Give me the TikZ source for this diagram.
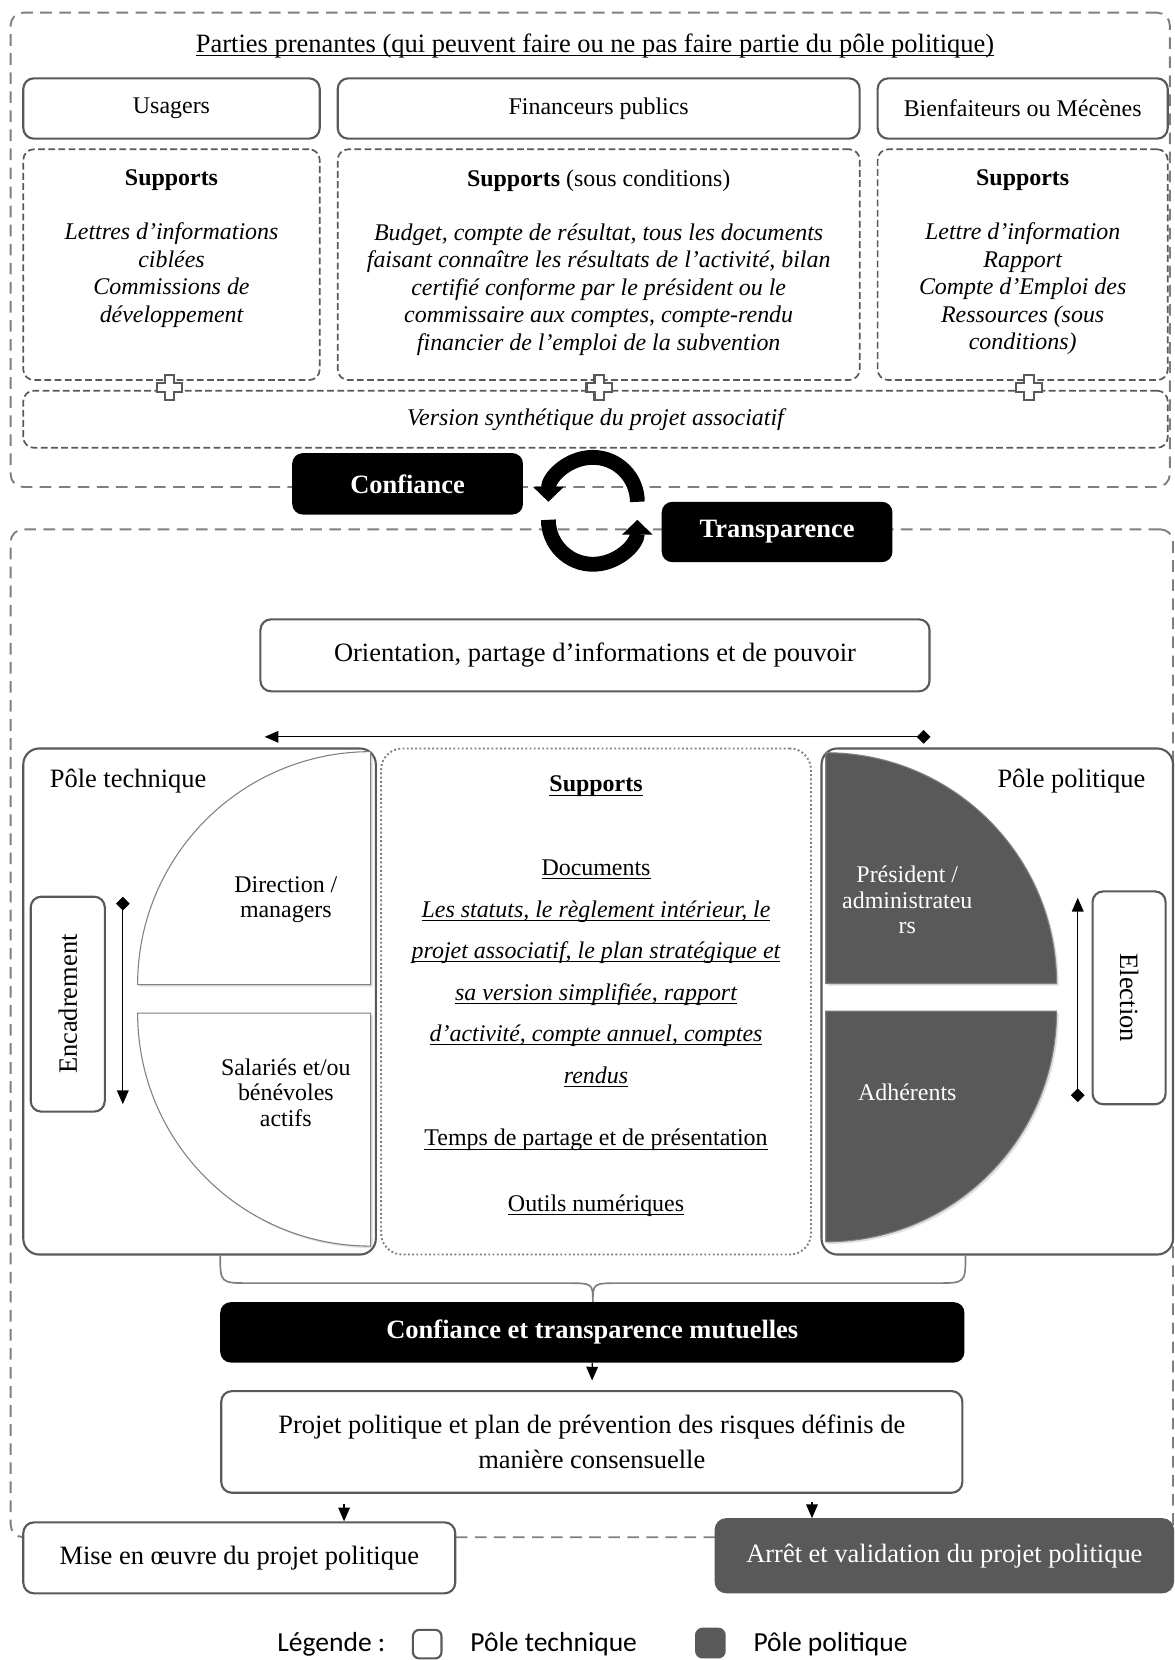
\documentclass[tikz,border=0pt]{standalone}
\usepackage{fontspec}
\setmainfont{Liberation Serif}
\newfontfamily\legendfont{Carlito}
\usepackage{tikz}
\usetikzlibrary{arrows.meta,shadows}
\definecolor{LineGrey}{HTML}{595959}
\definecolor{DashGrey}{HTML}{7F7F7F}
\definecolor{PoleDark}{HTML}{595959}
\newcommand{\bigtxt}{\fontsize{12.5}{15}\selectfont}
\newcommand{\smtxt}{\fontsize{11.3}{13}\selectfont}
\newcommand{\disctxt}{\fontsize{11.3}{12}\selectfont}
\newcommand{\doctxt}{\fontsize{11.3}{19.6}\selectfont}
\newcommand{\legtxt}{\legendfont\fontsize{13}{15}\selectfont}
\newsavebox{\ulbox}
\newcommand{\ulin}[1]{\sbox{\ulbox}{#1}\rlap{\rule[-1.8pt]{\wd\ulbox}{0.55pt}}\usebox{\ulbox}}

\begin{document}
\begin{tikzpicture}[x=0.5pt,y=-0.5pt,
frame/.style={draw=DashGrey,line width=0.9pt,dash pattern=on 5.5pt off 3.5pt,rounded corners=6pt},
box/.style={draw=LineGrey,line width=1pt,rounded corners=5pt,fill=white,align=center},
supbox/.style={draw=LineGrey,line width=0.8pt,dash pattern=on 3.2pt off 1.6pt,rounded corners=5pt},
suptxt/.style={anchor=north,align=center,font=\smtxt\itshape,inner sep=0pt},
blackbox/.style={fill=black,rounded corners=5pt,text=white,font=\bigtxt\bfseries},
pole/.style={draw=LineGrey,line width=1pt,rounded corners=7.5pt,fill=white},
dotbox/.style={draw=DashGrey,line width=0.9pt,dash pattern=on 0.9pt off 1.1pt,rounded corners=10pt},
lightdisc/.style={draw=DashGrey,line width=0.5pt,fill=white,drop shadow={shadow xshift=1pt,shadow yshift=-1pt,opacity=0.25}},
darkdisc/.style={draw=DashGrey,line width=0.5pt,fill=PoleDark,drop shadow={shadow xshift=1pt,shadow yshift=-1pt,opacity=0.25}},
plusmark/.style={draw=LineGrey,line width=1pt,fill=white},
arr/.style={-{Triangle[length=6.5pt,width=5.5pt]},line width=0.6pt},
diaarr/.style={{Diamond[length=6.5pt,width=6.5pt]}-{Triangle[length=6.5pt,width=5.5pt]},line width=0.6pt},
cyc/.style={-{Triangle[length=7pt,width=14pt]},line width=7pt},
bracest/.style={draw=DashGrey,line width=0.8pt},
legsq/.style={draw=LineGrey,line width=1pt,rounded corners=3pt,minimum width=13.5pt,minimum height=13.5pt,inner sep=0pt}
]
\useasboundingbox (0,0) rectangle (1109,1568);
% dashed frames
\node[frame,minimum width=547.5pt,minimum height=224pt] (ftop) at (557.5,236) {};
\node[frame,minimum width=549pt,minimum height=476pt] (fbot) at (559,976) {};

% parties prenantes
\node[font=\bigtxt] (parties) at (562,43) {\ulin{Parties prenantes (qui peuvent faire ou ne pas faire partie du pôle politique)}};
\node[box,font=\smtxt,minimum width=140pt,minimum height=28.5pt] (usagers) at (162,102.5) {Usagers};
\node[box,font=\smtxt,minimum width=246.5pt,minimum height=28.5pt] (financeurs) at (565.5,102.5) {Financeurs publics};
\node[box,font=\smtxt,minimum width=137pt,minimum height=28.5pt] (bienfaiteurs) at (966,102.5) {Bienfaiteurs ou Mécènes};
\node[supbox,minimum width=140pt,minimum height=109pt] (supU) at (162,250) {};
\node[supbox,minimum width=246.5pt,minimum height=109pt] (supF) at (565.5,250) {};
\node[supbox,minimum width=137pt,minimum height=109pt] (supB) at (966,250) {};
\node[suptxt] (supUtxt) at (162,160) {\textup{\textbf{Supports}}\\[12.5pt]Lettres d’informations\\ciblées\\Commissions de\\développement};
\node[suptxt] (supFtxt) at (565.5,160) {\textup{\textbf{Supports} (sous conditions)}\\[12.5pt]Budget, compte de résultat, tous les documents\\faisant connaître les résultats de l’activité, bilan\\certifié conforme par le président ou le\\commissaire aux comptes, compte-rendu\\financier de l’emploi de la subvention};
\node[suptxt] (supBtxt) at (966,160) {\textup{\textbf{Supports}}\\[12.5pt]Lettre d’information\\Rapport\\Compte d’Emploi des\\Ressources (sous\\conditions)};
\node[supbox,font=\smtxt\itshape,minimum width=540.5pt,minimum height=27pt] (version) at (562.5,396) {Version synthétique du projet associatif};
\draw[plusmark] (160,366) ++(-4.5,-12) -- ++(9,0) -- ++(0,7.5) -- ++(7.5,0) -- ++(0,9) -- ++(-7.5,0) -- ++(0,7.5) -- ++(-9,0) -- ++(0,-7.5) -- ++(-7.5,0) -- ++(0,-9) -- ++(7.5,0) -- cycle;
\draw[plusmark] (566,366) ++(-4.5,-12) -- ++(9,0) -- ++(0,7.5) -- ++(7.5,0) -- ++(0,9) -- ++(-7.5,0) -- ++(0,7.5) -- ++(-9,0) -- ++(0,-7.5) -- ++(-7.5,0) -- ++(0,-9) -- ++(7.5,0) -- cycle;
\draw[plusmark] (972,366) ++(-4.5,-12) -- ++(9,0) -- ++(0,7.5) -- ++(7.5,0) -- ++(0,9) -- ++(-7.5,0) -- ++(0,7.5) -- ++(-9,0) -- ++(0,-7.5) -- ++(-7.5,0) -- ++(0,-9) -- ++(7.5,0) -- cycle;

% confiance / transparence
\node[blackbox,minimum width=109pt,minimum height=29pt] (confiance) at (385,457) {Confiance};
\node[blackbox,minimum width=109pt,minimum height=28.5pt] (transparence) at (734,502.5) {Transparence};
\coordinate (cycTop) at (602,474);
\coordinate (cycBot) at (518,491);
\draw[cyc] (cycTop) arc[start angle=0,end angle=180,radius=21pt];
\draw[cyc] (cycBot) arc[start angle=180,end angle=360,radius=21pt];

\node[box,font=\bigtxt,minimum width=316pt,minimum height=34pt] (orient) at (562,619) {Orientation, partage d’informations et de pouvoir};
\coordinate (shareR) at (879,696);
\coordinate (shareL) at (250,696);
\draw[diaarr] (shareR) -- (shareL);

% pole technique
\node[pole,minimum width=166.5pt,minimum height=239pt] (tech) at (188.5,946) {};
\node[font=\bigtxt] (techlbl) at (121,738) {Pôle technique};
\draw[lightdisc] (350,930) -- (130,930) arc[start angle=180,end angle=90,radius=110pt] -- cycle;
\draw[lightdisc] (350,957) -- (350,1177) arc[start angle=270,end angle=180,radius=110pt] -- cycle;
\node[font=\disctxt,align=center] (direction) at (270,850) {Direction /\\managers};
\node[font=\disctxt,align=center] (salaries) at (270,1032) {Salariés et/ou\\bénévoles\\actifs};
\node[box,font=\bigtxt,rotate=90,minimum width=101.5pt,minimum height=35pt] (encadr) at (64,948.5) {Encadrement};
\coordinate (encTop) at (116,847);
\coordinate (encBot) at (116,1043);
\draw[diaarr] (encTop) -- (encBot);

% supports
\node[dotbox,minimum width=203pt,minimum height=239pt] (supmid) at (563,946) {};
\node[font=\smtxt\bfseries] (supmidT) at (563,743) {\ulin{Supports}};
\node[font=\doctxt\itshape,align=center] (docs) at (563,919.5) {\textup{\ulin{Documents}}\\\ulin{Les statuts, le règlement intérieur, le}\\\ulin{projet associatif, le plan stratégique et}\\\ulin{sa version simplifiée, rapport}\\\ulin{d’activité, compte annuel, comptes}\\\ulin{rendus}};
\node[font=\smtxt] (temps) at (563,1077) {\ulin{Temps de partage et de présentation}};
\node[font=\smtxt] (outils) at (563,1139) {\ulin{Outils numériques}};

% pole politique
\node[pole,minimum width=166pt,minimum height=239pt] (pol) at (942,946) {};
\node[font=\bigtxt] (pollbl) at (1012,738) {Pôle politique};
\draw[darkdisc] (780,929) -- (780,711) arc[start angle=90,end angle=0,radius=109pt] -- cycle;
\draw[darkdisc] (780,955) -- (998,955) arc[start angle=0,end angle=-90,radius=109pt] -- cycle;
\node[text=white,font=\disctxt,align=center] (president) at (857,850) {Président /\\administrateu\\rs};
\node[text=white,font=\smtxt] (adherents) at (857,1032) {Adhérents};
\node[box,font=\bigtxt,rotate=-90,minimum width=100.5pt,minimum height=34.5pt] (election) at (1066.5,942.5) {Election};
\coordinate (eleBot) at (1018,1041);
\coordinate (eleTop) at (1018,848);
\draw[diaarr] (eleBot) -- (eleTop);

% brace and result
\draw[bracest] (208,1185) .. controls (208,1212) .. (236,1212) -- (534,1212) .. controls (560,1212) .. (560,1230) .. controls (560,1212) .. (586,1212) -- (884,1212) .. controls (912,1212) .. (912,1185);
\node[blackbox,minimum width=351.5pt,minimum height=28.5pt] (mutual) at (559.5,1258.5) {Confiance et transparence mutuelles};
\node[box,font={\fontsize{12.5}{16.5}\selectfont},minimum width=350pt,minimum height=48pt] (projet) at (559,1362) {Projet politique et plan de prévention des risques définis de\\manière consensuelle};
\draw[arr,shorten >=4.5pt] (mutual) -- (projet);
\node[box,font=\bigtxt,minimum width=204pt,minimum height=33.5pt] (mise) at (226,1471.5) {Mise en œuvre du projet politique};
\node[box,fill=PoleDark,text=white,font=\bigtxt,minimum width=216pt,minimum height=34.5pt] (arret) at (892,1469.5) {Arrêt et validation du projet politique};
\draw[arr,shorten <=5pt] ([xshift=-117pt]projet.south) -- ([xshift=49.5pt]mise.north);
\draw[arr,shorten <=4pt] ([xshift=104pt]projet.south) -- ([xshift=-62.5pt]arret.north);

% legend
\node[font=\legtxt] (leg) at (313,1553) {Légende :};
\node[legsq,fill=white] (legW) at (403.5,1553) {};
\node[font=\legtxt] (legWt) at (523,1553) {Pôle technique};
\node[legsq,fill=PoleDark] (legD) at (671,1552) {};
\node[font=\legtxt] (legDt) at (784.5,1553) {Pôle politique};
\end{tikzpicture}
\end{document}
